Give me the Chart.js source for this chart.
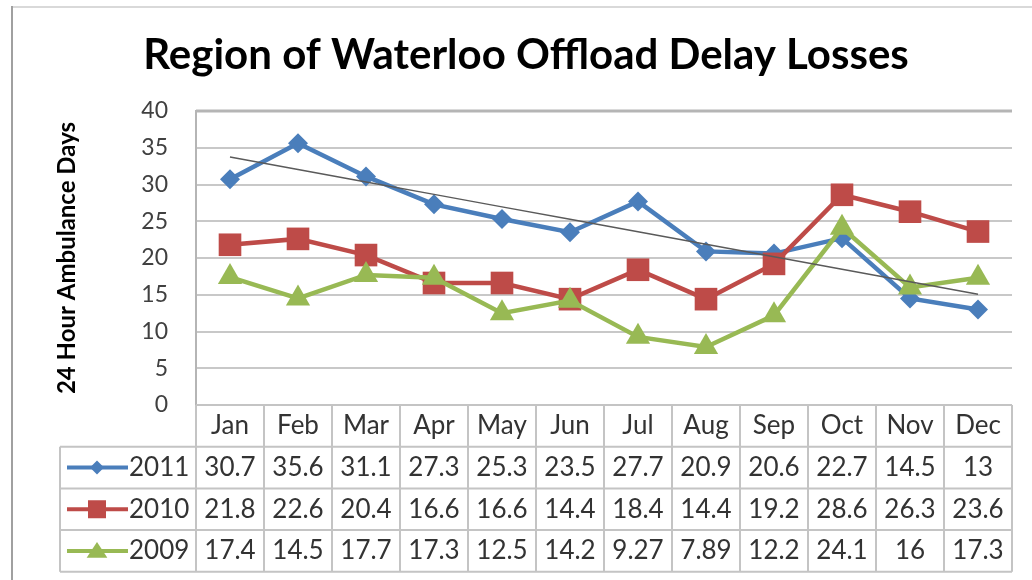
<!DOCTYPE html>
<html><head><meta charset="utf-8">
<script src="https://cdn.jsdelivr.net/npm/chart.js@4/dist/chart.umd.min.js"></script>
<style>html,body{margin:0;padding:0;background:#fff}#wrap{width:1032px;height:580px}</style>
</head><body><div id="wrap"><canvas id="c" width="1032" height="580"></canvas></div>
<script>
const months = ['Jan','Feb','Mar','Apr','May','Jun','Jul','Aug','Sep','Oct','Nov','Dec'];
const seriesNames = ['2011','2010','2009'];
const values2011 = [30.7,35.6,31.1,27.3,25.3,23.5,27.7,20.9,20.6,22.7,14.5,13];
const values2010 = [21.8,22.6,20.4,16.6,16.6,14.4,18.4,14.4,19.2,28.6,26.3,23.6];
const values2009 = [17.4,14.5,17.7,17.3,12.5,14.2,9.27,7.89,12.2,24.1,16,17.3];
const yTicks = [0,5,10,15,20,25,30,35,40];
const chartTitle = 'Region of Waterloo Offload Delay Losses';
const yTitle = '24 Hour Ambulance Days';

// Linear (least-squares) trendline of the 2011 series, as in the original spreadsheet chart
function linearTrend(vals){
  const n = vals.length;
  let sx=0, sy=0, sxy=0, sxx=0;
  vals.forEach((v,i)=>{sx+=i; sy+=v; sxy+=i*v; sxx+=i*i;});
  const b = (n*sxy - sx*sy)/(n*sxx - sx*sx);
  const a = (sy - b*sx)/n;
  return vals.map((_,i)=>a+b*i);
}
const trend2011 = linearTrend(values2011);

const FONT = 'Lato, Carlito, "Open Sans", sans-serif';
const series = [
  {name: seriesNames[0], data: values2011, color:'#4a7ebb', style:'diamond'},
  {name: seriesNames[1], data: values2010, color:'#be4b48', style:'square'},
  {name: seriesNames[2], data: values2009, color:'#98b954', style:'triangle'}
];

function drawMarker(ctx, style, x, y, s, color){
  ctx.save();
  ctx.fillStyle = color;
  ctx.beginPath();
  if(style==='diamond'){
    ctx.moveTo(x, y-s); ctx.lineTo(x+s, y); ctx.lineTo(x, y+s); ctx.lineTo(x-s, y);
  } else if(style==='square'){
    ctx.rect(x-s, y-s, 2*s, 2*s);
  } else {
    ctx.moveTo(x, y-s); ctx.lineTo(x+s*1.15, y+s*0.75); ctx.lineTo(x-s*1.15, y+s*0.75);
  }
  ctx.closePath();
  ctx.fill();
  ctx.restore();
}

const framePlugin = {
  id:'frame',
  beforeDraw(chart){
    const ctx = chart.ctx;
    ctx.save();
    ctx.fillStyle = '#fff';
    ctx.fillRect(0,0,chart.width,chart.height);
    ctx.lineWidth = 2;
    ctx.strokeStyle = '#d9d9d9';
    ctx.beginPath(); ctx.moveTo(12,7); ctx.lineTo(chart.width,7); ctx.stroke();
    ctx.strokeStyle = '#a0a0a0';
    ctx.beginPath(); ctx.moveTo(12,6); ctx.lineTo(12,chart.height); ctx.stroke();
    ctx.restore();
  }
};

const tablePlugin = {
  id:'dataTable',
  afterDraw(chart){
    const ctx = chart.ctx;
    const {left, right, top, bottom} = chart.chartArea;
    const xs = chart.scales.x;
    const cw = xs.getPixelForValue(1) - xs.getPixelForValue(0);
    const rowH = 41.7;
    const legendLeft = 60;
    const rows = [bottom, bottom+rowH, bottom+2*rowH, bottom+3*rowH, bottom+4*rowH];
    ctx.save();
    // plot area top border
    ctx.strokeStyle = '#b5b5b5'; ctx.lineWidth = 3;
    ctx.beginPath(); ctx.moveTo(left, top); ctx.lineTo(right, top); ctx.stroke();
    // grid of the table
    ctx.strokeStyle = '#c4c4c4'; ctx.lineWidth = 2;
    ctx.beginPath();
    ctx.moveTo(left, rows[0]); ctx.lineTo(right, rows[0]);
    for(let r=1;r<rows.length;r++){ ctx.moveTo(legendLeft, rows[r]); ctx.lineTo(right, rows[r]); }
    for(let i=0;i<=months.length;i++){
      const x = xs.getPixelForValue(i) - cw/2;
      ctx.moveTo(x, rows[0]); ctx.lineTo(x, rows[4]);
    }
    ctx.moveTo(legendLeft, rows[1]); ctx.lineTo(legendLeft, rows[4]);
    ctx.stroke();
    // header
    ctx.fillStyle = '#333';
    ctx.font = '26px ' + FONT;
    ctx.textAlign = 'center'; ctx.textBaseline = 'middle';
    months.forEach((m,i)=>ctx.fillText(m, xs.getPixelForValue(i), rows[0]+rowH/2));
    // rows
    series.forEach((s,r)=>{
      const cy = rows[r+1] + rowH/2;
      ctx.textAlign = 'center';
      ctx.fillStyle = '#333';
      ctx.font = '26px ' + FONT;
      s.data.forEach((v,i)=>ctx.fillText(String(v), xs.getPixelForValue(i), cy));
      // legend key
      ctx.strokeStyle = s.color; ctx.lineWidth = 4;
      ctx.beginPath(); ctx.moveTo(67, cy); ctx.lineTo(128, cy); ctx.stroke();
      drawMarker(ctx, s.style, 97, cy, s.style==='diamond'?7:9, s.color);
      ctx.fillStyle = '#333';
      ctx.font = '26px ' + FONT;
      ctx.textAlign = 'left';
      ctx.fillText(s.name, 129, cy);
    });
    ctx.restore();
  }
};

const styleMap = {diamond:'rectRot', square:'rect', triangle:'triangle'};
const radiusMap = {diamond:10, square:16, triangle:14};

const datasets = [
  {label:'Linear (2011)', data: trend2011, borderColor:'#5a5a5a', borderWidth:1.5, pointRadius:0, order:0, tension:0},
  ...series.slice().reverse().map((s,k)=>({
    label: s.name, data: s.data, borderColor: s.color, backgroundColor: s.color,
    borderWidth: 4.5, pointStyle: styleMap[s.style], pointRadius: radiusMap[s.style],
    pointBorderWidth: 0, pointBackgroundColor: s.color, order: k+1, tension:0
  }))
];

new Chart(document.getElementById('c'), {
  type:'line',
  data:{labels: months, datasets},
  options:{
    responsive:false, animation:false,
    layout:{padding:{left:40, right:20, top:0, bottom:0}},
    plugins:{
      legend:{display:false}, tooltip:{enabled:false},
      title:{display:true, text: chartTitle, color:'#000',
        font:{family:FONT, size:42, weight:'bold'}, padding:{top:30, bottom:30.6}}
    },
    scales:{
      x:{
        display:true, offset:true,
        ticks:{display:false},
        grid:{display:false, drawTicks:false, offset:true},
        border:{display:false},
        afterFit(scale){ scale.height = 175; }
      },
      y:{
        min:0, max:40,
        afterBuildTicks(scale){ scale.ticks = yTicks.map(v=>({value:v})); },
        ticks:{color:'#404040', font:{family:FONT, size:23}, padding:28},
        grid:{color:(c)=> c.tick && c.tick.value===40 ? '#b5b5b5' : '#c8c8c8', lineWidth:2, drawTicks:false},
        border:{display:true, color:'#b5b5b5', width:2},
        title:{display:true, text:yTitle, color:'#000', font:{family:FONT, size:24, weight:'bold'}, padding:{top:12.6, bottom:0}},
        afterFit(scale){ scale.width = 156; }
      }
    }
  },
  plugins:[framePlugin, tablePlugin]
});
</script>
</body></html>
